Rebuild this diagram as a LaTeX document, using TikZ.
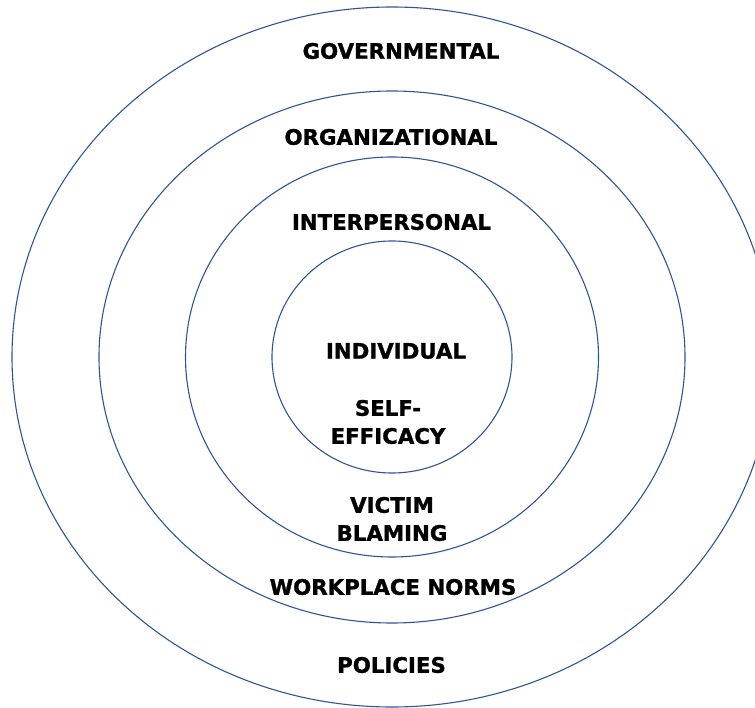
\documentclass[tikz,border=0pt]{standalone}
\usepackage{fontspec}
\setmainfont{DejaVu Sans}[BoldFeatures={FakeBold=1.2}]
\definecolor{ringblue}{HTML}{2F5597}
\begin{document}
\begin{tikzpicture}[x=1pt,y=-1pt,
  ring/.style={draw=ringblue,line width=1.1pt},
  lbl/.style={font=\fontsize{21.3}{28}\selectfont\bfseries,align=center,inner sep=0pt,text=black}]
\useasboundingbox (0,0) rectangle (755,708);
\clip (0,0) rectangle (755,708);
\fill[white] (0,0) rectangle (755,708);
\draw[ring] (392,357) ellipse [x radius=380, y radius=350];
\draw[ring] (392,357) ellipse [x radius=293, y radius=266];
\draw[ring] (392,357) ellipse [x radius=206.5, y radius=200];
\draw[ring] (392,357) ellipse [x radius=120, y radius=116];
\node[lbl] (gov) at (401,51) {GOVERNMENTAL};
\node[lbl] (org) at (391,137) {ORGANIZATIONAL};
\node[lbl] (inter) at (391.5,222) {INTERPERSONAL};
\node[lbl] (ind) at (396,351) {INDIVIDUAL};
\node[lbl] (self) at (388,422) {SELF-\\EFFICACY};
\node[lbl] (vic) at (392,519) {VICTIM\\BLAMING};
\node[lbl] (work) at (393,587) {WORKPLACE NORMS};
\node[lbl] (pol) at (391.5,665) {POLICIES};
\end{tikzpicture}
\end{document}
